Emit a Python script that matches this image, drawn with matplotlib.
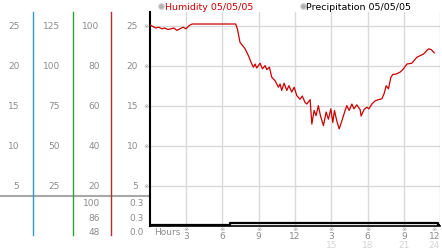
import matplotlib.pyplot as plt
import matplotlib.transforms as mtransforms

# Humidity 05/05/05 (hours, value)
hum_hours = [0, 0.25, 0.5, 0.75, 1.0, 1.25, 1.5, 1.75, 2.0, 2.25, 2.5, 2.75, 3.0, 3.25,
             3.5, 4.5, 5.5, 6.5, 7.1,
             7.24, 7.46, 7.88, 8.15, 8.43, 8.57, 8.7, 8.84, 9.12, 9.31, 9.53, 9.67, 9.89,
             10.08, 10.36, 10.63, 10.77, 10.9, 11.1, 11.32, 11.5, 11.73, 11.93, 12.15,
             12.42, 12.6, 12.83, 12.97, 13.25, 13.39, 13.58, 13.74, 13.93, 14.1, 14.35,
             14.57, 14.76, 14.96, 15.12, 15.26, 15.45, 15.65, 15.87, 16.14, 16.28, 16.47,
             16.7, 16.87, 17.1, 17.38, 17.46, 17.7, 17.93, 18.1, 18.35, 18.62, 18.9,
             19.17, 19.36, 19.53, 19.72, 19.92, 20.08, 20.36, 20.69, 20.96, 21.24, 21.65,
             22.07, 22.34, 22.61, 23.03, 23.25, 23.5]
humidity = [25.1, 24.9, 24.7, 24.8, 24.6, 24.7, 24.5, 24.6, 24.7, 24.4, 24.6, 24.8, 24.6, 25.0,
            25.2, 25.2, 25.2, 25.2, 25.2,
            24.6, 22.9, 22.1, 21.25, 20.2, 19.8, 20.2, 19.7, 20.3, 19.6, 20.0, 19.5, 19.8,
            18.55, 18.1, 17.3, 17.7, 16.9, 17.8, 16.9, 17.5, 16.7, 17.3, 16.25,
            15.8, 16.2, 15.4, 15.2, 15.75, 12.7, 14.4, 13.75, 15.0, 13.75, 12.5,
            14.2, 13.3, 14.6, 12.9, 14.4, 13.1, 12.1, 13.1, 14.4, 15.0, 14.4,
            15.2, 14.6, 15.1, 14.5, 13.7, 14.5, 14.8, 14.6, 15.2, 15.6, 15.75,
            15.85, 16.5, 17.5, 17.1, 18.55, 18.9, 18.95, 19.2, 19.6, 20.2, 20.3,
            21.05, 21.25, 21.45, 22.1, 22.0, 21.6]

# Precipitation 05/05/05
precip_hours = [0, 6.6, 6.6, 23.8, 23.8, 24]
precip = [0.0, 0.0, 0.3, 0.3, 0.0, 0.0]

# scales on the left
y_vals = [25, 20, 15, 10, 5]
col1 = ['25', '20', '15', '10', '5']
col2 = ['125', '100', '75', '50', '25']
col3 = ['100', '80', '60', '40', '20']
col4 = ['25', '20', '15', '10', '5']
low_col3 = ['100', '86', '48']
low_col4 = ['0.3', '0.3', '0.0']

# x labels
xtick_hours = [3, 6, 9, 12, 15, 18, 21, 24]
xtick_top = ['3', '6', '9', '12', '3', '6', '9', '12']
xtick_bottom_hours = [15, 18, 21, 24]
xtick_bottom = ['15', '18', '21', '24']

W, H = 442, 253
fig = plt.figure(figsize=(W / 100, H / 100), dpi=100)
plt.rcParams['font.family'] = 'DejaVu Sans'
fs = 6.5
grey = '#8c8c8c'

# overlay in pixel coordinates
ov = fig.add_axes([0, 0, 1, 1])
ov.set_xlim(0, W)
ov.set_ylim(H, 0)
ov.axis('off')

x0, x1 = 149.7, 440.3
ytop, ybot = 13, 226.7
ax = fig.add_axes([x0 / W, (H - ybot) / H, (x1 - x0) / W, (ybot - ytop) / H])
ax.set_xlim(0, 24)
ax.set_ylim(0, 26.7)
ax.patch.set_alpha(0)

for s in ['top', 'right']:
    ax.spines[s].set_visible(False)
ax.spines['left'].set_linewidth(1.5)
ax.spines['bottom'].set_linewidth(1.2)
ax.set_xticks([])
ax.set_yticks([])

# grid
for h in xtick_hours:
    ax.axvline(h, color='#d9d9d9', lw=1, zorder=0)
for v in y_vals:
    ax.axhline(v, color='#d9d9d9', lw=1, zorder=0)

ax.plot(hum_hours, humidity, color='#cc0000', lw=0.9, zorder=3)

ax2 = ax.twinx()
ax2.set_ylim(-0.2, 40)
ax2.axis('off')
ax2.plot(precip_hours, precip, color='black', lw=1.6, zorder=4)

# left panel
tr_y = mtransforms.blended_transform_factory(ov.transData, ax.transData)
for v, a, b, c, d in zip(y_vals, col1, col2, col3, col4):
    ov.text(19.5, v, a, transform=tr_y, ha='right', va='center', fontsize=fs, color=grey)
    ov.text(60, v, b, transform=tr_y, ha='right', va='center', fontsize=fs, color=grey)
    ov.text(99.5, v, c, transform=tr_y, ha='right', va='center', fontsize=fs, color=grey)
    ov.text(138, v, d, transform=tr_y, ha='right', va='center', fontsize=fs, color=grey)
    ov.text(146, v, '※', transform=tr_y, ha='center', va='center', fontsize=4.5, color='#999999')

for yy, c, d in zip([204, 218.5, 232.5], low_col3, low_col4):
    ov.text(100, yy, c, ha='right', va='center', fontsize=fs, color=grey)
    ov.text(144, yy, d, ha='right', va='center', fontsize=fs, color=grey)

ov.plot([0, 149], [197, 197], color='#a8a8a8', lw=1.5)
ov.plot([33, 33], [12.5, 236], color='#3399cc', lw=1)
ov.plot([72.5, 72.5], [12.5, 236], color='#33a033', lw=1)
ov.plot([111, 111], [12.5, 236], color='#b03030', lw=1)

# x labels
tr_x = mtransforms.blended_transform_factory(ax.transData, ov.transData)
ov.text(154, 233, 'Hours', ha='left', va='center', fontsize=fs, color=grey)
for h, lab in zip(xtick_hours, xtick_top):
    xh = h - 0.5 if h == 24 else h
    ov.text(xh, 229.5, '※', transform=tr_x, ha='center', va='center', fontsize=4.5, color='#999999')
    ov.text(xh, 237, lab, transform=tr_x, ha='center', va='center', fontsize=fs, color=grey)
for h, lab in zip(xtick_bottom_hours, xtick_bottom):
    xh = h - 0.5 if h == 24 else h
    ov.text(xh, 246, lab, transform=tr_x, ha='center', va='center', fontsize=fs, color='#d4d4d4')

# legend
ov.plot(160.5, 7, 'o', ms=4, mfc='#b0b0b0', mec='#d0d0d0', mew=0.8)
ov.text(165, 7, 'Humidity 05/05/05', ha='left', va='center', fontsize=fs + 0.3, color='#cc0000')
ov.plot(302.5, 7, 'o', ms=4, mfc='#b0b0b0', mec='#d0d0d0', mew=0.8)
ov.text(306, 7, 'Precipitation 05/05/05', ha='left', va='center', fontsize=fs + 0.3, color='black')

fig.savefig('out.png', dpi=100)
